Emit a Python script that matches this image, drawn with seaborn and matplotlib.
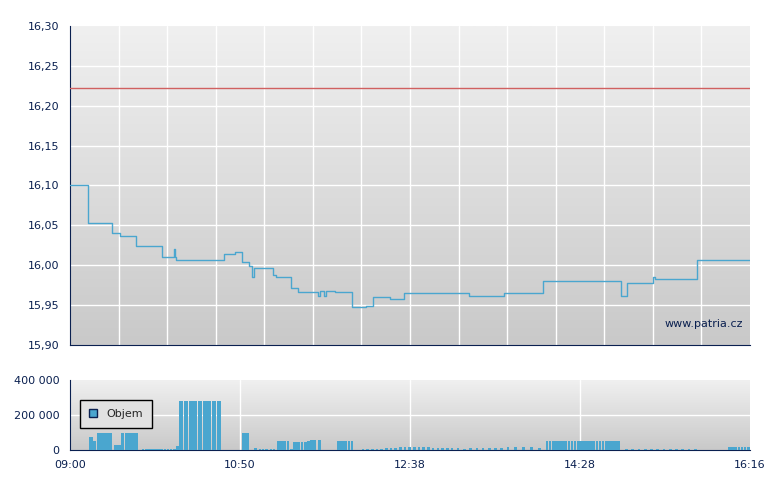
import numpy as np
import matplotlib
matplotlib.use("Agg")
import matplotlib.pyplot as plt
import seaborn as sns
import pandas as pd
from matplotlib.patches import Patch

sns.set_style("white")
plt.rcParams['font.family'] = ['DejaVu Sans']

# price steps: minutes from 09:00, price
price_t = [0, 11.5, 27, 32, 42, 46, 59, 67, 67.5, 68, 99, 106, 110, 115, 117, 118, 119, 130, 132, 142, 146,
           159, 160, 161, 163, 164, 165, 170, 181, 190, 194, 205, 214, 256, 278, 303, 353, 357, 374, 375, 402, 421, 436]
price_v = [16.10, 16.053, 16.04, 16.037, 16.024, 16.024, 16.010, 16.020, 16.010, 16.006, 16.014, 16.016, 16.004,
           15.999, 15.985, 15.997, 15.997, 15.988, 15.985, 15.971, 15.966, 15.962, 15.968, 15.968, 15.962, 15.968,
           15.968, 15.966, 15.948, 15.949, 15.960, 15.958, 15.965, 15.962, 15.965, 15.980, 15.962, 15.978, 15.985,
           15.983, 16.006, 16.007, 16.007]
ref_price = 16.222

vol_t = [12, 13, 14, 15, 17, 18, 19, 20, 22, 23, 24, 25, 28, 29, 30, 31, 33, 35, 36, 38, 40, 41, 42,
         46, 48, 50, 52, 54, 56, 58, 60, 62, 64, 66, 68,
         70, 71, 73, 74, 76, 77, 79, 80, 82, 83, 85, 86, 88, 89, 91, 92, 94, 95,
         110, 111, 113, 118, 121, 123, 125, 128, 130,
         133, 134, 136, 137, 139, 141, 143, 145, 146, 148, 150, 152, 154, 156, 159,
         171, 172, 174, 176, 178, 180,
         187, 190, 193, 196, 199, 202, 205, 208, 211, 214, 217, 220, 223, 226, 229, 232, 235, 238,
         241, 244, 248, 252, 256, 260, 264, 268, 272, 276, 280, 285, 290, 295, 300,
         305, 307, 309, 311, 313, 315, 317, 319, 321, 323, 325, 327, 329, 331, 333, 335, 337, 339, 341, 343, 345, 347, 349, 351,
         356, 360, 364, 368, 372, 376, 380, 384, 388, 392, 396, 400, 422, 424, 426, 428, 430, 432, 434]
vol_v = [76000, 76000, 51000, 51000, 95000, 95000, 95000, 95000, 95000, 95000, 95000, 95000, 29000, 29000, 29000, 29000,
         95000, 95000, 95000, 95000, 95000, 95000, 95000,
         5000, 5000, 5000, 5000, 5000, 5000, 5000, 5000, 5000, 5000, 5000, 23000,
         280000, 280000, 280000, 280000, 280000, 280000, 280000, 280000, 280000, 280000, 280000, 280000, 280000, 280000,
         280000, 280000, 280000, 280000,
         97000, 97000, 97000, 10000, 3000, 3000, 3000, 3000, 3000,
         50000, 50000, 50000, 50000, 50000, 3000, 46000, 46000, 46000, 46000, 46000, 50000, 55000, 55000, 55000,
         50000, 50000, 50000, 50000, 50000, 50000,
         3000, 3000, 3000, 3000, 3000, 10000, 12000, 12000, 15000, 15000, 15000, 15000, 15000, 15000, 15000, 12000, 12000, 12000,
         10000, 10000, 10000, 8000, 12000, 12000, 12000, 12000, 12000, 12000, 15000, 15000, 15000, 15000, 12000,
         52000, 52000, 52000, 52000, 52000, 52000, 52000, 52000, 52000, 52000, 52000, 52000, 52000, 52000, 52000, 52000,
         52000, 52000, 52000, 52000, 52000, 52000, 52000, 52000,
         5000, 5000, 5000, 5000, 5000, 5000, 5000, 5000, 5000, 5000, 5000, 5000, 15000, 15000, 15000, 15000, 15000, 15000, 15000]

xtick_pos = [0, 109, 218, 327, 436]
xtick_lab = ["09:00", "10:50", "12:38", "14:28", "16:16"]
ytick_price = [15.90, 15.95, 16.00, 16.05, 16.10, 16.15, 16.20, 16.25, 16.30]
ytick_vol = [0, 200000, 400000]

navy = "#0a2050"
line_c = "#4aa6cf"

fig = plt.figure(figsize=(7.8, 4.9), dpi=100)
ax = fig.add_axes([70/780, 1-345/490, 680/780, 319/490])
axv = fig.add_axes([70/780, 1-450/490, 680/780, 70/490])

grad = np.linspace(0, 1, 256).reshape(-1, 1)
cmap = matplotlib.colors.LinearSegmentedColormap.from_list("g", ["#f0f0f0", "#c9c9c9"])
for a in (ax, axv):
    a.imshow(grad, aspect="auto", cmap=cmap, extent=[0, 1, 0, 1], transform=a.transAxes, zorder=0)
    for s in ("top", "right"):
        a.spines[s].set_visible(False)
    for s in ("left", "bottom"):
        a.spines[s].set_color(navy)
    a.tick_params(colors=navy, labelsize=8, length=4, direction="out", color=navy)

grid_x = np.linspace(0, 436, 15)
df = pd.DataFrame({"t": price_t, "p": price_v})
sns.lineplot(data=df, x="t", y="p", ax=ax, drawstyle="steps-post", color=line_c, lw=1.0, zorder=3)
ax.axhline(ref_price, color="#d06060", lw=1, zorder=3)
ax.set_xlim(0, 436)
ax.set_ylim(15.90, 16.30)
ax.set_yticks(ytick_price)
ax.set_yticklabels([f"{v:.2f}".replace(".", ",") for v in ytick_price])
ax.set_xticks(grid_x)
ax.set_xticklabels([])
for gx in grid_x[1:-1]:
    ax.axvline(gx, color="white", lw=1, zorder=1)
for gy in ytick_price[1:-1]:
    ax.axhline(gy, color="white", lw=1, zorder=1)
ax.set_xlabel(""); ax.set_ylabel("")
ax.text(0.99, 0.065, "www.patria.cz", transform=ax.transAxes, ha="right", va="center", fontsize=8, color=navy)

axv.bar(vol_t, vol_v, width=1.7, align="edge", color=line_c, linewidth=0, antialiased=False, zorder=3)
axv.set_xlim(0, 436)
axv.set_ylim(0, 400000)
axv.set_yticks(ytick_vol)
axv.set_yticklabels(["0", "200 000", "400 000"])
axv.set_xticks(xtick_pos)
axv.set_xticklabels(xtick_lab)
for gx in xtick_pos[1:-1]:
    axv.axvline(gx, color="white", lw=1, zorder=1)
axv.axhline(200000, color="white", lw=1, zorder=1)
leg = axv.legend(handles=[Patch(facecolor=line_c, edgecolor=navy, label="Objem")], loc="lower left",
                 bbox_to_anchor=(0.006, 0.24), fontsize=8, fancybox=False, framealpha=1,
                 handlelength=0.8, handleheight=0.8, borderpad=0.8)
leg.get_frame().set_edgecolor("black")
leg.get_frame().set_facecolor("#e2e2e2")

fig.savefig("out.png", dpi=100)
